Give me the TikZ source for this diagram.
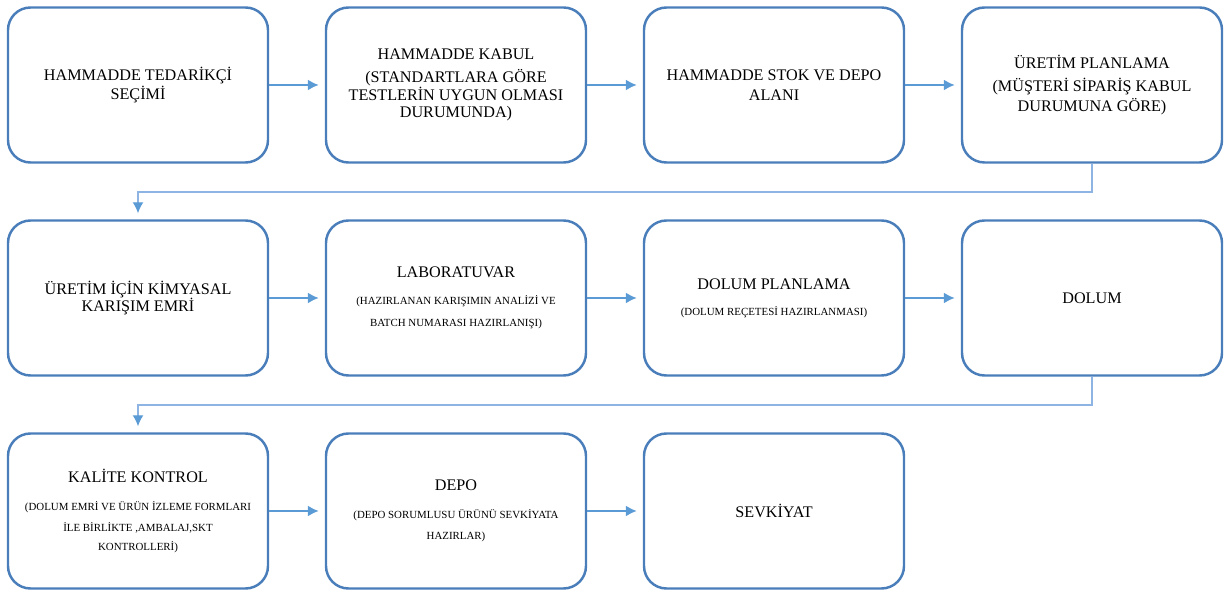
\documentclass[tikz,border=0pt]{standalone}
\usepackage{fontspec}
\setmainfont{Liberation Serif}
\usetikzlibrary{arrows.meta}
\definecolor{kutumavi}{RGB}{74,126,187}
\definecolor{okmavi}{RGB}{91,155,213}
\definecolor{hatmavi}{RGB}{141,180,226}
\newcommand{\aciklama}[1]{{\fontsize{6.2pt}{12pt}\selectfont #1}}
\tikzset{
	block/.style  = {draw=kutumavi, line width=1.4pt, fill=white, rectangle, rounded corners=0.45cm, minimum height=3.1cm, minimum width=5.2cm, align=center, font=\fontsize{9.2pt}{11pt}\selectfont, node distance = 6.36cm},
	hidden/.style = {coordinate},
	akis/.style   = {-{Latex[length=2.2mm,width=2.2mm]}, okmavi, line width=1pt, shorten >=0.12cm},
	donus/.style  = {-{Latex[length=2.2mm,width=2.2mm,color=okmavi]}, hatmavi, line width=0.8pt, shorten >=0.12cm},
}

\begin{document}
\begin{tikzpicture}[auto]
		\useasboundingbox (0,0) rectangle (24.54,11.84);
		% Draw the first row
		\draw
		node[block] (tedarikci) at (2.76,10.14) {HAMMADDE TEDARİKÇİ\\SEÇİMİ}
		node[block, right of = tedarikci] (kabul) {HAMMADDE KABUL\\[2pt](STANDARTLARA GÖRE\\[-0.8pt]TESTLERİN UYGUN OLMASI\\[-0.8pt]DURUMUNDA)}
		node[block, right of = kabul    ] (stok) {HAMMADDE STOK VE DEPO\\ALANI}
		node[block, right of = stok     ] (planlama) {ÜRETİM PLANLAMA\\[2pt](MÜŞTERİ SİPARİŞ KABUL\\DURUMUNA GÖRE)}
		node[hidden, below of = planlama, node distance = 2.14cm] (donus1) {};
		
		% Draw the second row
		\draw
		node[block, below of = tedarikci, node distance = 4.26cm] (kimyasal) {ÜRETİM İÇİN KİMYASAL\\[-1pt]KARIŞIM EMRİ}
		node[block, right of = kimyasal   ] (laboratuvar) {LABORATUVAR\\[4.3pt]\aciklama{(HAZIRLANAN KARIŞIMIN ANALİZİ VE}\\[1.5pt]\aciklama{BATCH NUMARASI HAZIRLANIŞI)}}
		node[block, right of = laboratuvar] (dolumplan) {DOLUM PLANLAMA\\[3.7pt]\aciklama{(DOLUM REÇETESİ HAZIRLANMASI)}}
		node[block, right of = dolumplan  ] (dolum) {DOLUM}
		node[hidden, below of = dolum, node distance = 2.14cm] (donus2) {};
		
		% Draw the third row
		\draw
		node[block, below of = kimyasal, node distance = 4.26cm] (kalite) {KALİTE KONTROL\\[4.9pt]\aciklama{(DOLUM EMRİ VE ÜRÜN İZLEME FORMLARI}\\[0.9pt]\aciklama{İLE BİRLİKTE ,AMBALAJ,SKT}\\[0.3pt]\aciklama{KONTROLLERİ)}}
		node[block, right of = kalite] (depo) {DEPO\\[4.9pt]\aciklama{(DEPO SORUMLUSU ÜRÜNÜ SEVKİYATA}\\[0.9pt]\aciklama{HAZIRLAR)}}
		node[block, right of = depo  ] (sevkiyat) {SEVKİYAT};
		
		% Connect everything together
		\draw[akis] (tedarikci) -- (kabul);
		\draw[akis] (kabul) -- (stok);
		\draw[akis] (stok) -- (planlama);
		\draw[donus] (planlama.south) -- (donus1) -| (kimyasal.north);
		
		\draw[akis] (kimyasal) -- (laboratuvar);
		\draw[akis] (laboratuvar) -- (dolumplan);
		\draw[akis] (dolumplan) -- (dolum);
		\draw[donus] (dolum.south) -- (donus2) -| (kalite.north);
		
		\draw[akis] (kalite) -- (depo);
		\draw[akis] (depo) -- (sevkiyat);
	\end{tikzpicture}
\end{document}
